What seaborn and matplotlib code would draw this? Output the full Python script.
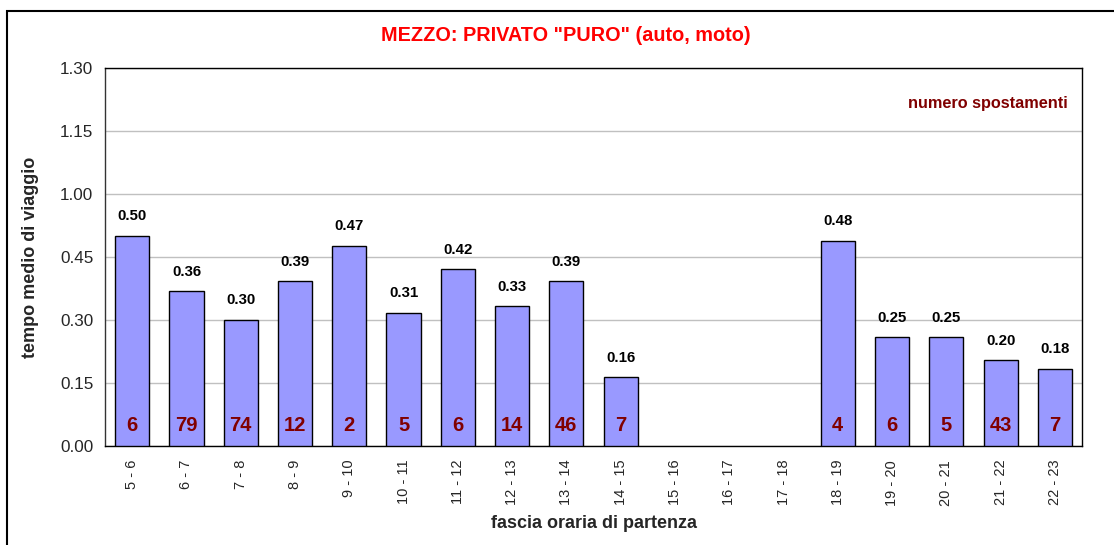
import numpy as np
import pandas as pd
import seaborn as sns
import matplotlib.pyplot as plt
from matplotlib.patches import Rectangle
from matplotlib.ticker import FixedLocator, FuncFormatter

# Data (travel time in minutes, axis shown as h.mm)
fasce = ["5 - 6", "6 - 7", "7 - 8", "8 - 9", "9 - 10", "10 - 11", "11 - 12",
         "12 - 13", "13 - 14", "14 - 15", "15 - 16", "16 - 17", "17 - 18",
         "18 - 19", "19 - 20", "20 - 21", "21 - 22", "22 - 23"]
tempo_min = [50.0, 36.9, 30.1, 39.2, 47.7, 31.7, 42.1, 33.3, 39.2, 16.4,
             np.nan, np.nan, np.nan, 48.9, 25.9, 25.9, 20.4, 18.4]
spostamenti = [6, 79, 74, 12, 2, 5, 6, 14, 46, 7,
               None, None, None, 4, 6, 5, 43, 7]

y_ticks = [0, 15, 30, 45, 60, 75, 90]

TITLE = 'MEZZO: PRIVATO "PURO" (auto, moto)'
BAR_COLOR = "#9999ff"
DARK_RED = "#800000"


def hmm(minutes):
    """Format minutes as Excel-like h.mm (truncated)."""
    m = int(round(minutes, 6))
    return f"{m // 60}.{m % 60:02d}"


def main():
    sns.set_style("white")
    plt.rcParams["font.family"] = ["Liberation Sans", "DejaVu Sans"]

    df = pd.DataFrame({"fascia": fasce, "tempo": tempo_min})

    fig = plt.figure(figsize=(11.14, 5.45), dpi=100)
    ax = fig.add_axes([0.0943, 0.1817, 0.8770, 0.6935])

    sns.barplot(data=df, x="fascia", y="tempo", order=fasce, color=BAR_COLOR,
                saturation=1, width=0.63, edgecolor="black", linewidth=1.0,
                ax=ax, zorder=3)

    # value labels above bars and counts inside bars
    for i, (t, n) in enumerate(zip(tempo_min, spostamenti)):
        if np.isnan(t):
            continue
        ax.annotate(hmm(t), (i, t), xytext=(0, 9), textcoords="offset points",
                    ha="center", va="bottom", fontsize=10.8, fontweight="bold",
                    color="black", zorder=5)
        ax.annotate(str(n), (i, 0), xytext=(0, 8), textcoords="offset points",
                    ha="center", va="bottom", fontsize=14.5, fontweight="bold",
                    color=DARK_RED, zorder=5)

    # axes
    ax.set_xlim(-0.5, len(fasce) - 0.5)
    ax.set_ylim(0, 90)
    ax.yaxis.set_major_locator(FixedLocator(y_ticks))
    ax.yaxis.set_major_formatter(FuncFormatter(lambda v, p: hmm(v)))
    ax.grid(axis="y", color="#c0c0c0", linewidth=1.0, zorder=0)
    ax.grid(axis="x", visible=False)

    ax.set_xticks(range(len(fasce)))
    ax.set_xticklabels(fasce, rotation=90, fontsize=10.5)
    ax.set_xticks(np.arange(-0.5, len(fasce)), minor=True)
    ax.tick_params(axis="x", which="major", length=0, pad=10)
    ax.tick_params(axis="x", which="minor", length=5, width=1, color="black",
                   direction="out")
    ax.tick_params(axis="y", length=5, width=1, color="black", direction="out",
                   labelsize=12.3)

    for s in ax.spines.values():
        s.set_color("black")
        s.set_linewidth(1.0)
    ax.spines["left"].set_color("#333333")

    ax.set_xlabel("fascia oraria di partenza", fontsize=13, fontweight="bold",
                  labelpad=7)
    ax.set_ylabel("tempo medio di viaggio", fontsize=13, fontweight="bold",
                  labelpad=15)

    fig.text(0.508, 0.935, TITLE, ha="center", va="center", fontsize=14.3,
             fontweight="bold", color="red")
    ax.text(0.985, 0.905, "numero spostamenti", transform=ax.transAxes,
            ha="right", va="center", fontsize=11.7, fontweight="bold",
            color=DARK_RED)

    # outer frame of the chart object (left and top edges visible)
    fig.patches.append(Rectangle((7 / 1114, -0.05), 1.2, 0.05 + 1 - 11 / 545,
                                 transform=fig.transFigure, fill=False,
                                 edgecolor="black", linewidth=1.5))

    fig.savefig("out.png", dpi=100)
    plt.close(fig)


if __name__ == "__main__":
    main()
